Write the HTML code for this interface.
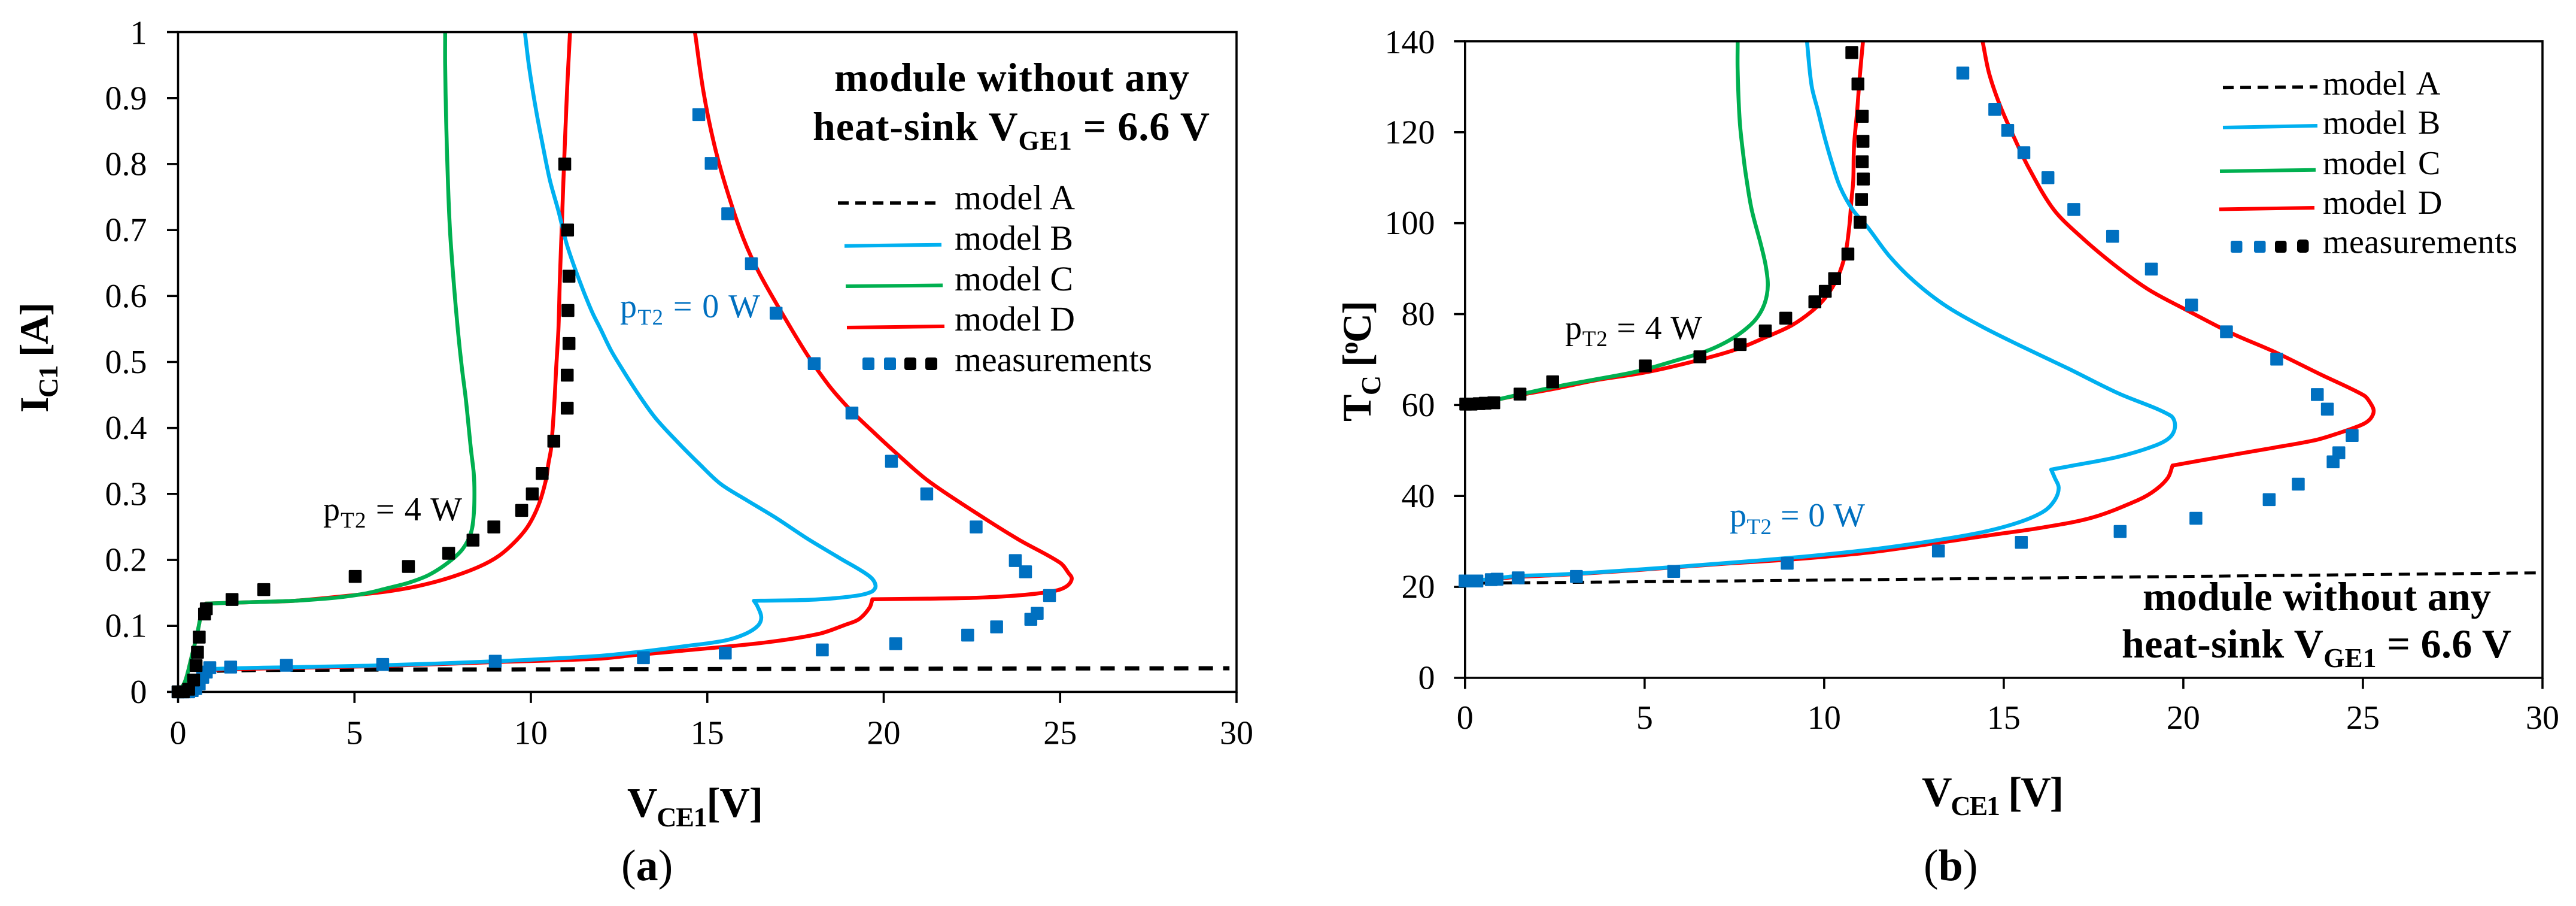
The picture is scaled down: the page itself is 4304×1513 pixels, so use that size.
<!DOCTYPE html>
<html lang="en">
<head>
<meta charset="utf-8">
<title>Module without heat-sink: model and measurement comparison</title>
<style>
html,body{margin:0;padding:0;background:#fff;}
svg{display:block;}
text{font-family:"Liberation Serif","DejaVu Serif",serif;fill:#000;}
.tick{font-size:56px;}
.leg{font-size:58px;}
.legb{font-size:56px;word-spacing:5px;}
.bold{font-weight:bold;}
.note{font-size:56px;}
.blue{fill:#0070C0;}
</style>
</head>
<body>
<svg id="figure" xmlns="http://www.w3.org/2000/svg" width="4304" height="1513" viewBox="0 0 4304 1513">
<rect x="0" y="0" width="4304" height="1513" fill="#fff"/>
<g id="plot-a"></g>
<g id="plot-b"></g>

<g>
<text class="bold" font-size="68" transform="translate(80 689) rotate(-90)" textLength="184">I<tspan dy="16" font-size="46">C1</tspan><tspan dy="-16"> [A]</tspan></text>
<text class="bold" font-size="70" x="1048" y="1364" textLength="227">V<tspan dy="16" font-size="46">CE1</tspan><tspan dy="-16">[V]</tspan></text>
<text font-size="74" x="1038" y="1470">(<tspan class="bold">a</tspan>)</text>
<text class="bold" font-size="68" x="1394" y="152" textLength="593">module without any</text>
<text class="bold" font-size="68" x="1358" y="234" textLength="663">heat-sink V<tspan dy="16" font-size="45">GE1</tspan><tspan dy="-16"> = 6.6 V</tspan></text>
<text class="note blue" x="1036" y="530" textLength="234">p<tspan dy="12" font-size="37" class="blue">T2</tspan><tspan dy="-12" class="blue"> = 0 W</tspan></text>
<text class="note" x="540" y="869" textLength="232">p<tspan dy="12" font-size="37">T2</tspan><tspan dy="-12"> = 4 W</tspan></text>
<g>
<line x1="1400" y1="339" x2="1565" y2="339" stroke="#000" stroke-width="5.5" stroke-dasharray="18 11"/>
<line x1="1411" y1="410.7" x2="1573" y2="408.7" stroke="#00B0F0" stroke-width="6"/>
<line x1="1413" y1="478" x2="1575" y2="476.5" stroke="#00B050" stroke-width="6"/>
<line x1="1415" y1="547" x2="1578" y2="545" stroke="#FF0000" stroke-width="6"/>
<rect x="1441" y="597" width="20" height="21" rx="3" fill="#0070C0"/>
<rect x="1477" y="597" width="20" height="21" rx="3" fill="#0070C0"/>
<rect x="1511" y="597" width="20" height="21" rx="4" fill="#000"/>
<rect x="1546" y="597" width="20" height="21" rx="4" fill="#000"/>
<text class="leg" x="1595" y="349.5" textLength="201">model A</text>
<text class="leg" x="1595" y="417" textLength="198">model B</text>
<text class="leg" x="1595" y="485" textLength="198">model C</text>
<text class="leg" x="1595" y="552" textLength="201">model D</text>
<text class="leg" x="1595" y="620" textLength="330">measurements</text>
</g>
</g>

<g>
<text class="bold" font-size="68" transform="translate(2290 704) rotate(-90)" textLength="202">T<tspan dy="16" font-size="46">C</tspan><tspan dy="-16"> [</tspan><tspan dy="-22" font-size="42">o</tspan><tspan dy="22">C]</tspan></text>
<text class="bold" font-size="70" x="3211" y="1346" textLength="237">V<tspan dy="15" font-size="46">CE1</tspan><tspan dy="-15"> [V]</tspan></text>
<text font-size="74" x="3214" y="1470">(<tspan class="bold">b</tspan>)</text>
<text class="bold" font-size="68" x="3580" y="1019" textLength="582">module without any</text>
<text class="bold" font-size="68" x="3545" y="1098" textLength="651">heat-sink V<tspan dy="16" font-size="45">GE1</tspan><tspan dy="-16"> = 6.6 V</tspan></text>
<text class="note blue" x="2890" y="879" textLength="226">p<tspan dy="13" font-size="37" class="blue">T2</tspan><tspan dy="-13" class="blue"> = 0 W</tspan></text>
<text class="note" x="2615" y="566" textLength="229">p<tspan dy="12" font-size="37">T2</tspan><tspan dy="-12"> = 4 W</tspan></text>
<g>
<line x1="3714" y1="146.4" x2="3872" y2="145" stroke="#000" stroke-width="5.5" stroke-dasharray="18 11"/>
<line x1="3714" y1="213" x2="3872" y2="210" stroke="#00B0F0" stroke-width="6"/>
<line x1="3709" y1="286" x2="3869" y2="283.7" stroke="#00B050" stroke-width="6"/>
<line x1="3708" y1="349.5" x2="3867" y2="347" stroke="#FF0000" stroke-width="6"/>
<rect x="3727" y="402" width="19.5" height="20" rx="3" fill="#0070C0"/>
<rect x="3766" y="402" width="19.5" height="20" rx="3" fill="#0070C0"/>
<rect x="3801" y="402" width="19.5" height="20" rx="4" fill="#000"/>
<rect x="3838" y="400" width="19.5" height="22" rx="5" fill="#000"/>
<text class="legb" x="3881" y="158">model A</text>
<text class="legb" x="3881" y="223.5">model B</text>
<text class="legb" x="3881" y="291">model C</text>
<text class="legb" x="3881" y="357">model D</text>
<text class="legb" x="3881" y="422.5" textLength="325">measurements</text>
</g>
</g>
</svg>

<script>
// ---- Shared x axis ----
const xTickValues = [0, 5, 10, 15, 20, 25, 30];
const xTickLabels = ['0', '5', '10', '15', '20', '25', '30'];

// ---- Chart (a): V_CE1 [V] vs I_C1 [A] ----
const aYTickValues = [0, 0.1, 0.2, 0.3, 0.4, 0.5, 0.6, 0.7, 0.8, 0.9, 1];
const aYTickLabels = ['0', '0.1', '0.2', '0.3', '0.4', '0.5', '0.6', '0.7', '0.8', '0.9', '1'];
const aModelA = [[0,0],[0.4,0],[0.6,0.012],[0.8,0.028],[1,0.032],[5,0.0337],[10,0.034],[15,0.0345],[20,0.035],[25,0.0355],[29.8,0.0358]];
const aModelB0W = [[0,0],[0.19,0],[0.49,0.0057],[0.6,0.019],[0.785,0.032],[0.9,0.0345],[3.28,0.0375],[5.66,0.04],[9,0.0464],[11.92,0.0545],[13.11,0.0608],[14.3,0.0688],[15.49,0.0777],[16.08,0.0879],[16.44,0.1006],[16.53,0.1134],[16.41,0.1309],[16.32,0.1381],[16.32,0.1381],[17.87,0.1394],[19.06,0.1445],[19.65,0.1516],[19.77,0.1611],[19.59,0.1755],[18.76,0.2025],[17.87,0.2311],[16.97,0.2629],[16.08,0.2917],[15.37,0.3155],[14.77,0.3457],[14.12,0.3807],[13.52,0.4158],[13.05,0.4508],[12.63,0.4858],[12.27,0.5177],[11.98,0.5495],[11.73,0.5763],[11.38,0.6227],[11.02,0.678],[10.78,0.729],[10.54,0.7754],[10.31,0.8356],[10.13,0.8866],[9.95,0.9468],[9.83,1]];
const aModelC4W = [[0,0],[0.19,0.0146],[0.37,0.05],[0.55,0.09],[0.67,0.1206],[0.785,0.1338],[0.785,0.1338],[2.09,0.136],[3.28,0.138],[4.47,0.1427],[5.3,0.149],[5.98,0.1577],[6.54,0.1655],[7.11,0.1773],[7.68,0.197],[8.07,0.2167],[8.3,0.2409],[8.38,0.268],[8.4,0.3016],[8.38,0.3316],[8.3,0.368],[8.16,0.442],[8.04,0.493],[7.93,0.5486],[7.81,0.6227],[7.71,0.697],[7.65,0.771],[7.6,0.8634],[7.57,0.949],[7.57,1]];
const aModelD4W = [[0,0],[0.19,0.0146],[0.37,0.05],[0.55,0.09],[0.67,0.1206],[0.785,0.1338],[0.785,0.1338],[2.09,0.136],[3.28,0.138],[5.07,0.147],[5.98,0.1526],[6.83,0.1607],[7.68,0.1728],[8.52,0.1894],[9.09,0.2061],[9.6,0.2303],[9.94,0.253],[10.22,0.2835],[10.42,0.3198],[10.5,0.347],[10.57,0.368],[10.66,0.433],[10.72,0.493],[10.78,0.5486],[10.82,0.6227],[10.87,0.697],[10.92,0.771],[10.98,0.854],[11.04,0.9282],[11.11,1]];
const aModelD0W = [[0,0],[0.19,0],[0.49,0.005],[0.6,0.017],[0.785,0.03],[0.9,0.033],[3.28,0.0365],[5.66,0.039],[9,0.0452],[11.92,0.0503],[12.99,0.056],[14.3,0.0624],[16.68,0.0751],[18.16,0.0879],[18.94,0.1022],[19.3,0.1102],[19.6,0.1277],[19.68,0.1404],[19.68,0.1404],[21.25,0.1413],[22.63,0.1427],[23.82,0.1462],[24.83,0.1528],[25.19,0.1603],[25.33,0.1714],[25.24,0.18],[25,0.1957],[23.82,0.231],[22.63,0.2708],[21.25,0.3203],[20.36,0.3616],[19.65,0.3966],[19.06,0.427],[18.46,0.4635],[17.87,0.508],[17.39,0.5495],[16.5,0.6319],[16.02,0.6875],[15.55,0.7615],[15.19,0.831],[14.89,0.91],[14.65,1]];
const aMeasured0W = [[0,0],[0.1,0],[0.2,0],[0.3,0],[0.4,0.002],[0.5,0.005],[0.6,0.012],[0.7,0.022],[0.8,0.03],[0.9,0.0367],[1.49,0.0376],[3.07,0.0403],[5.8,0.0416],[8.99,0.0464],[13.19,0.0517],[15.51,0.0588],[18.26,0.0636],[20.34,0.073],[22.38,0.086],[23.2,0.0985],[24.17,0.11],[24.35,0.119],[24.7,0.146],[24.02,0.182],[23.73,0.199],[22.62,0.25],[21.22,0.3],[20.22,0.3496],[19.1,0.4226],[18.03,0.4975],[16.95,0.574],[16.25,0.649],[15.58,0.7246],[15.11,0.801],[14.76,0.875]];
const aMeasured4W = [[0,0],[0.15,0],[0.3,0.004],[0.44,0.018],[0.51,0.04],[0.55,0.06],[0.6,0.083],[0.75,0.118],[0.8,0.126],[1.53,0.14],[2.43,0.155],[5.02,0.175],[6.53,0.19],[7.67,0.21],[8.36,0.23],[8.95,0.25],[9.74,0.275],[10.04,0.3],[10.32,0.331],[10.65,0.38],[11.03,0.43],[11.03,0.48],[11.08,0.528],[11.05,0.578],[11.08,0.63],[11.04,0.7],[10.96,0.8]];

// ---- Chart (b): V_CE1 [V] vs T_C [deg C] ----
const bYTickValues = [0, 20, 40, 60, 80, 100, 120, 140];
const bYTickLabels = ['0', '20', '40', '60', '80', '100', '120', '140'];
const bModelA = [[0,20.8],[10,21.5],[20,22.3],[29.96,23.1]];
const bModelB0W = [[0,21.1],[0.78,21.8],[1.45,22.4],[2.57,22.7],[4.8,23.8],[7.03,25.1],[9.2,26.5],[11.28,28.2],[13,30.1],[14.38,32],[15.42,34.2],[16.11,36.6],[16.42,39.1],[16.53,41.8],[16.42,44],[16.32,45.8],[16.32,45.8],[16.8,46.5],[18.18,48.6],[19.22,51.1],[19.64,53],[19.77,55.5],[19.64,57.7],[18.18,62.6],[16.8,68],[15.42,73.2],[14.38,77.3],[13.35,82],[12.52,87.1],[11.83,92.6],[11.21,99.1],[10.79,103],[10.44,108],[10.21,113.4],[9.99,119.5],[9.82,124.9],[9.65,130.2],[9.52,140]];
const bModelC4W = [[0,60.2],[0.33,60.4],[0.78,61],[1.45,62.2],[2.57,64.1],[3.68,65.7],[4.8,67.4],[5.87,69.8],[6.7,71.8],[7.26,73.8],[7.7,76],[8.09,78.8],[8.34,82.3],[8.43,86.3],[8.37,90.7],[8.23,95.5],[7.98,103],[7.84,109.5],[7.76,114.1],[7.65,122.2],[7.59,133.6],[7.59,140]];
const bModelD4W = [[0,60.2],[0.33,60.4],[0.78,61],[1.45,62.1],[2.57,63.7],[3.68,65.5],[5.04,67.2],[6.37,69.6],[7.54,72.2],[8.37,74.9],[9.09,77.5],[9.65,80.6],[10.04,83.7],[10.37,88],[10.59,93.3],[10.7,99.4],[10.76,105.2],[10.81,109.5],[10.83,116.8],[10.92,124.9],[10.99,132.2],[11.08,140]];
const bModelD0W = [[0,21.1],[0.78,21.7],[1.45,22.2],[2.57,22.6],[4.8,23.7],[7.03,25],[9.2,26.1],[11.28,27.6],[13,29.5],[14.73,31.5],[16.11,33.1],[17.49,35.3],[18.74,39.1],[19.22,41.3],[19.57,44],[19.7,46.7],[19.7,46.7],[21.34,49],[22.51,50.6],[23.68,52.3],[24.28,53.7],[24.98,55.7],[25.21,57],[25.3,58.7],[25.21,60.4],[25.03,62.1],[23.8,66.8],[22.51,71.8],[21.34,75.8],[20.04,81.1],[19.01,85.5],[18.05,91],[17.15,97],[16.39,103],[15.7,112.1],[15.29,118.8],[14.88,126.2],[14.59,133],[14.41,140]];
const bMeasured0W = [[0,21.3],[0.17,21.3],[0.33,21.3],[0.73,21.6],[0.89,21.7],[1.48,22],[3.1,22.3],[5.81,23.4],[8.97,25.2],[13.18,27.9],[15.49,29.8],[18.24,32.2],[20.35,35.1],[22.39,39.2],[23.2,42.6],[24.17,47.5],[24.33,49.5],[24.7,53.3],[24.01,59.1],[23.73,62.3],[22.6,70.1],[21.2,76.1],[20.23,82],[19.11,89.9],[18.03,97.1],[16.95,103],[16.23,110],[15.56,115.5],[15.11,120.4],[14.75,125],[13.86,133]];
const bMeasured4W = [[0.02,60.2],[0.17,60.2],[0.39,60.3],[0.56,60.4],[0.8,60.5],[1.53,62.4],[2.44,65.1],[5.02,68.6],[6.54,70.6],[7.66,73.3],[8.36,76.3],[8.93,79.1],[9.74,82.7],[10.03,85],[10.29,87.8],[10.66,93.2],[11,100.2],[11.04,105.2],[11.09,109.7],[11.06,113.5],[11.08,118],[11.06,123.5],[10.94,130.6],[10.77,137.5]];

const SVG_NS = 'http://www.w3.org/2000/svg';

function make(tag, attrs, parent) {
  const el = document.createElementNS(SVG_NS, tag);
  for (const key in attrs) el.setAttribute(key, attrs[key]);
  parent.appendChild(el);
  return el;
}

function linearScale(d0, d1, r0, r1) {
  return function (v) { return r0 + (v - d0) * (r1 - r0) / (d1 - d0); };
}

// Chord-length smoothed path; a repeated point yields a sharp corner.
function curvePath(points, sx, sy) {
  const p = points.map(function (q) { return [sx(q[0]), sy(q[1])]; });
  let d = 'M' + p[0][0].toFixed(1) + ' ' + p[0][1].toFixed(1);
  function tangent(i) {
    const a = p[Math.max(i - 1, 0)];
    const b = p[Math.min(i + 1, p.length - 1)];
    const dx = b[0] - a[0];
    const dy = b[1] - a[1];
    const n = Math.hypot(dx, dy) || 1;
    return [dx / n, dy / n];
  }
  for (let i = 0; i < p.length - 1; i++) {
    const len = Math.hypot(p[i + 1][0] - p[i][0], p[i + 1][1] - p[i][1]) * 0.33;
    const t0 = tangent(i);
    const t1 = tangent(i + 1);
    d += 'C' + (p[i][0] + t0[0] * len).toFixed(1) + ' ' + (p[i][1] + t0[1] * len).toFixed(1) + ' ' +
      (p[i + 1][0] - t1[0] * len).toFixed(1) + ' ' + (p[i + 1][1] - t1[1] * len).toFixed(1) + ' ' +
      p[i + 1][0].toFixed(1) + ' ' + p[i + 1][1].toFixed(1);
  }
  return d;
}

function drawCurve(parent, points, sx, sy, color, width, dash, name) {
  const attrs = { d: curvePath(points, sx, sy), fill: 'none', stroke: color, 'stroke-width': width, 'stroke-linejoin': 'round' };
  if (dash) attrs['stroke-dasharray'] = dash;
  const path = make('path', attrs, parent);
  
  
}

function drawMarkers(parent, points, sx, sy, color, name) {
  const group = make('g', {}, parent);
  
  
  points.forEach(function (q) {
    const m = make('rect', { x: sx(q[0]) - 10.75, y: sy(q[1]) - 10.75, width: 21.5, height: 21.5, rx: 1.5, fill: color }, group);
    
    
  });
}

function drawAxes(parent, box, sx, sy, yValues, yLabels, xLabelY, labelRight, suffix) {
  const frame = make('path', {
    d: 'M' + box.left + ' ' + box.bottom + 'V' + box.top + 'H' + box.right + 'V' + box.bottom + 'Z',
    fill: 'none', stroke: '#000', 'stroke-width': 3.6
  }, parent);
  
  
  yValues.forEach(function (v, i) {
    const y = sy(v);
    const tick = make('line', { x1: box.left - 18.5, x2: box.left, y1: y, y2: y, stroke: '#000', 'stroke-width': 3.6 }, parent);
    
    
    const label = make('text', { x: labelRight, y: y + (i === yValues.length - 1 ? 20 : 18.5), 'text-anchor': 'end', class: 'tick' }, parent);
    
    
    label.textContent = yLabels[i];
  });
  xTickValues.forEach(function (v, i) {
    const x = sx(v);
    const tick = make('line', { x1: x, x2: x, y1: box.bottom, y2: box.bottom + 18.5, stroke: '#000', 'stroke-width': 3.6 }, parent);
    
    
    const label = make('text', { x: x, y: xLabelY, 'text-anchor': 'middle', class: 'tick' }, parent);
    
    
    label.textContent = xTickLabels[i];
  });
}

// Chart (a)
(function () {
  const root = document.getElementById('plot-a');
  const box = { left: 297.5, right: 2066, top: 53.6, bottom: 1155.4 };
  const sx = linearScale(0, 30, box.left, box.right);
  const sy = linearScale(0, 1, box.bottom, box.top);
  drawCurve(root, aModelA, sx, sy, '#000', 7, '24 17', 'model-a-curve');
  drawCurve(root, aModelD4W, sx, sy, '#FF0000', 6.5, null, 'model-d-curve-4w');
  drawCurve(root, aModelD0W, sx, sy, '#FF0000', 6.5, null, 'model-d-curve-0w');
  drawCurve(root, aModelC4W, sx, sy, '#00B050', 6.5, null, 'model-c-curve-4w');
  drawCurve(root, aModelB0W, sx, sy, '#00B0F0', 6.5, null, 'model-b-curve-0w');
  drawAxes(root, box, sx, sy, aYTickValues, aYTickLabels, 1242.5, 245.5, 'a');
  drawMarkers(root, aMeasured0W, sx, sy, '#0070C0', 'measurements-0w');
  drawMarkers(root, aMeasured4W, sx, sy, '#000', 'measurements-4w');
})();

// Chart (b)
(function () {
  const root = document.getElementById('plot-b');
  const box = { left: 2447.8, right: 4248, top: 68.9, bottom: 1132 };
  const sx = linearScale(0, 30, box.left, box.right);
  const sy = linearScale(0, 140, box.bottom, box.top);
  drawCurve(root, bModelA, sx, sy, '#000', 5, '19 11', 'model-a-curve');
  drawCurve(root, bModelD4W, sx, sy, '#FF0000', 6.5, null, 'model-d-curve-4w');
  drawCurve(root, bModelD0W, sx, sy, '#FF0000', 6.5, null, 'model-d-curve-0w');
  drawCurve(root, bModelC4W, sx, sy, '#00B050', 6.5, null, 'model-c-curve-4w');
  drawCurve(root, bModelB0W, sx, sy, '#00B0F0', 6.5, null, 'model-b-curve-0w');
  drawAxes(root, box, sx, sy, bYTickValues, bYTickLabels, 1217, 2397.5, 'b');
  drawMarkers(root, bMeasured0W, sx, sy, '#0070C0', 'measurements-0w');
  drawMarkers(root, bMeasured4W, sx, sy, '#000', 'measurements-4w');
})();
</script>
</body>
</html>
